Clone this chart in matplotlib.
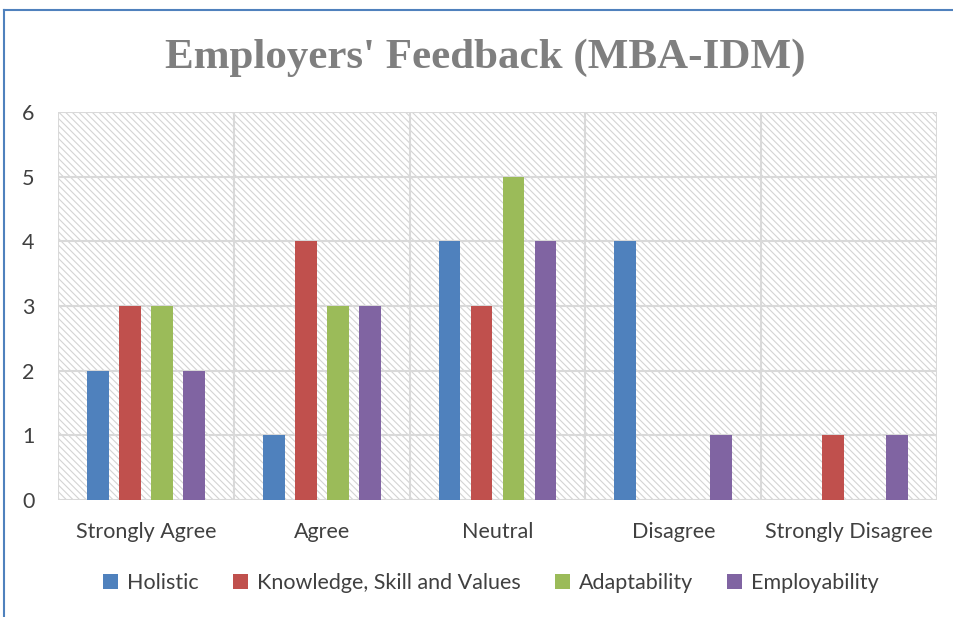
import matplotlib
matplotlib.use("Agg")
import matplotlib.pyplot as plt
import numpy as np
from matplotlib.patches import Rectangle
from matplotlib.lines import Line2D

categories = ["Strongly Agree", "Agree", "Neutral", "Disagree", "Strongly Disagree"]
series_names = ["Holistic", "Knowledge, Skill and Values", "Adaptability", "Employability"]
holistic = [2, 1, 4, 4, 0]
knowledge = [3, 4, 3, 0, 1]
adaptability = [3, 3, 5, 0, 0]
employability = [2, 3, 4, 1, 1]
yticks = [0, 1, 2, 3, 4, 5, 6]
title = "Employers' Feedback (MBA-IDM)"

colors = ["#4F81BD", "#C0504D", "#9BBB59", "#8064A2"]
values = [holistic, knowledge, adaptability, employability]

plt.rcParams["font.family"] = ["Lato", "DejaVu Sans"]
plt.rcParams["hatch.color"] = "#d4d4d4"
plt.rcParams["hatch.linewidth"] = 0.8

fig = plt.figure(figsize=(9.54, 6.17), dpi=100)
ax = fig.add_axes([58/954, 1 - 500/617, (937-58)/954, (500-112)/617])

n = len(categories)
x = np.arange(n)
bw = 0.125
step = 0.182
for i, (vals, c, name) in enumerate(zip(values, colors, series_names)):
    ax.bar(x + (i - 1.5) * step, vals, width=bw, color=c, label=name, zorder=3)

ax.set_xlim(-0.5, n - 0.5)
ax.set_ylim(0, 6)
ax.set_yticks(yticks)
ax.set_xticks(x)
ax.set_xticklabels(categories)
ax.tick_params(axis="both", length=0, labelsize=15.5, colors="#404040")
ax.tick_params(axis="y", pad=17)
ax.tick_params(axis="x", pad=16)

# hatched background
bg = Rectangle((0, 0), 1, 1, transform=ax.transAxes, facecolor="white",
               edgecolor="#d4d4d4", hatch="\\\\\\\\\\", linewidth=0, zorder=0)
ax.add_patch(bg)
for s in ax.spines.values():
    s.set_visible(False)
for yv in yticks:
    ax.axhline(yv, color="#d9d9d9", linewidth=1.5, zorder=1)
for b in np.arange(-0.5, n, 1.0):
    ax.axvline(b, color="#d9d9d9", linewidth=1.5, zorder=1)

fig.text(485/954, 1 - 58/617, title, ha="center", va="center",
         fontsize=31, fontweight="bold", color="#7f7f7f",
         family=["Liberation Serif", "DejaVu Serif"])

leg = fig.legend(loc="center", bbox_to_anchor=(491/954, 1 - 583/617), ncol=4,
                 frameon=False, fontsize=15.5, handlelength=0.7, handleheight=0.7,
                 handletextpad=0.4, columnspacing=1.6)
for t in leg.get_texts():
    t.set_color("#404040")

# chart border (blue)
fig.add_artist(Line2D([4/954, 4/954], [0, 1 - 10/617], color="#4F81BD", linewidth=1.5))
fig.add_artist(Line2D([4/954, 1], [1 - 10/617, 1 - 10/617], color="#4F81BD", linewidth=1.5))

fig.savefig("out.png", dpi=100)
